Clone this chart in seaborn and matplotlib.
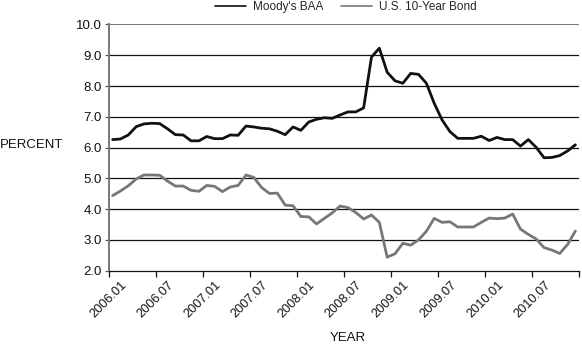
import matplotlib
matplotlib.use("Agg")
import matplotlib.pyplot as plt
import seaborn as sns
import pandas as pd
from matplotlib.lines import Line2D

# 60 months, 2006.01 .. 2010.12
months = [f"{y}.{m:02d}" for y in range(2006, 2011) for m in range(1, 13)]

moodys_baa = [6.26, 6.28, 6.41, 6.68, 6.77, 6.79, 6.78, 6.61, 6.42, 6.41, 6.22, 6.22,
              6.36, 6.29, 6.29, 6.41, 6.40, 6.70, 6.67, 6.63, 6.61, 6.53, 6.42, 6.67,
              6.56, 6.83, 6.92, 6.97, 6.95, 7.06, 7.16, 7.16, 7.29, 8.94, 9.23, 8.45,
              8.17, 8.09, 8.41, 8.38, 8.09, 7.44, 6.90, 6.52, 6.30, 6.30, 6.30, 6.37,
              6.23, 6.33, 6.26, 6.26, 6.05, 6.26, 6.01, 5.67, 5.68, 5.74, 5.89, 6.09]

us_10yr = [4.44, 4.59, 4.76, 4.98, 5.11, 5.11, 5.10, 4.91, 4.75, 4.75, 4.61, 4.58,
           4.77, 4.74, 4.57, 4.72, 4.77, 5.11, 5.03, 4.70, 4.51, 4.52, 4.13, 4.11,
           3.76, 3.75, 3.52, 3.70, 3.88, 4.10, 4.05, 3.89, 3.68, 3.81, 3.57, 2.44,
           2.55, 2.89, 2.83, 3.00, 3.28, 3.70, 3.57, 3.59, 3.42, 3.42, 3.42, 3.57,
           3.71, 3.69, 3.71, 3.84, 3.35, 3.18, 3.03, 2.75, 2.67, 2.56, 2.85, 3.29]

series_names = ["Moody's BAA", "U.S. 10-Year Bond"]
series_colors = ["#111111", "#777777"]
tick_labels = ["2006.01", "2006.07", "2007.01", "2007.07", "2008.01",
               "2008.07", "2009.01", "2009.07", "2010.01", "2010.07"]
y_ticks = [2.0, 3.0, 4.0, 5.0, 6.0, 7.0, 8.0, 9.0, 10.0]

df = pd.DataFrame({
    "idx": list(range(len(months))) * 2,
    "value": moodys_baa + us_10yr,
    "series": [series_names[0]] * len(months) + [series_names[1]] * len(months),
})

sns.set_theme(style="white")
plt.rcParams["font.family"] = ["Liberation Sans", "DejaVu Sans"]

fig = plt.figure(figsize=(5.82, 3.49), dpi=100)
ax = fig.add_axes([0.1868, 0.2244, 0.8086, 0.7054])

sns.lineplot(data=df, x="idx", y="value", hue="series", hue_order=series_names,
             palette=series_colors, linewidth=2.0, ax=ax, legend=False)

ax.set_xlim(-0.5, len(months) - 0.5)
ax.set_ylim(2.0, 10.0)
ax.set_yticks(y_ticks)
ax.set_yticklabels([f"{v:.1f}" for v in y_ticks], fontsize=9.5, color="#111111")
for v in y_ticks[1:]:
    ax.axhline(v, color="#777777" if v == 10.0 else "#111111",
               lw=1.4 if v == 10.0 else 0.9, zorder=0)

xt = [i - 0.5 for i in range(0, len(months) + 1, 6)]
ax.set_xticks(xt)
ax.set_xticklabels(tick_labels + [""], rotation=45, ha="center", fontsize=9.2, color="#111111")
ax.tick_params(axis="x", direction="out", length=4, width=0.9, color="#111111", pad=2, bottom=True)
ax.tick_params(axis="y", direction="out", length=3, width=0.9, color="#555555", pad=2, left=True)

for s in ["top", "right"]:
    ax.spines[s].set_visible(False)
ax.spines["left"].set_color("#777777")
ax.spines["left"].set_linewidth(1.4)
ax.spines["bottom"].set_color("#111111")
ax.spines["bottom"].set_linewidth(0.9)
ax.set_xlabel("")
ax.set_ylabel("")

fig.text(0.0, 1 - 145 / 349, "PERCENT", fontsize=9.5, ha="left", va="center", color="#111111")
fig.text(348 / 582, 1 - 338 / 349, "YEAR", fontsize=9.5, ha="center", va="center", color="#111111")

handles = [Line2D([], [], color=c, lw=1.2) for c in series_colors]
fig.legend(handles, series_names, loc="center", bbox_to_anchor=(346 / 582, 1 - 7 / 349),
           ncol=2, frameon=False, fontsize=8.5, handlelength=2.6, columnspacing=1.5,
           handletextpad=0.6, borderaxespad=0, borderpad=0)

fig.savefig("out.png", dpi=100)
